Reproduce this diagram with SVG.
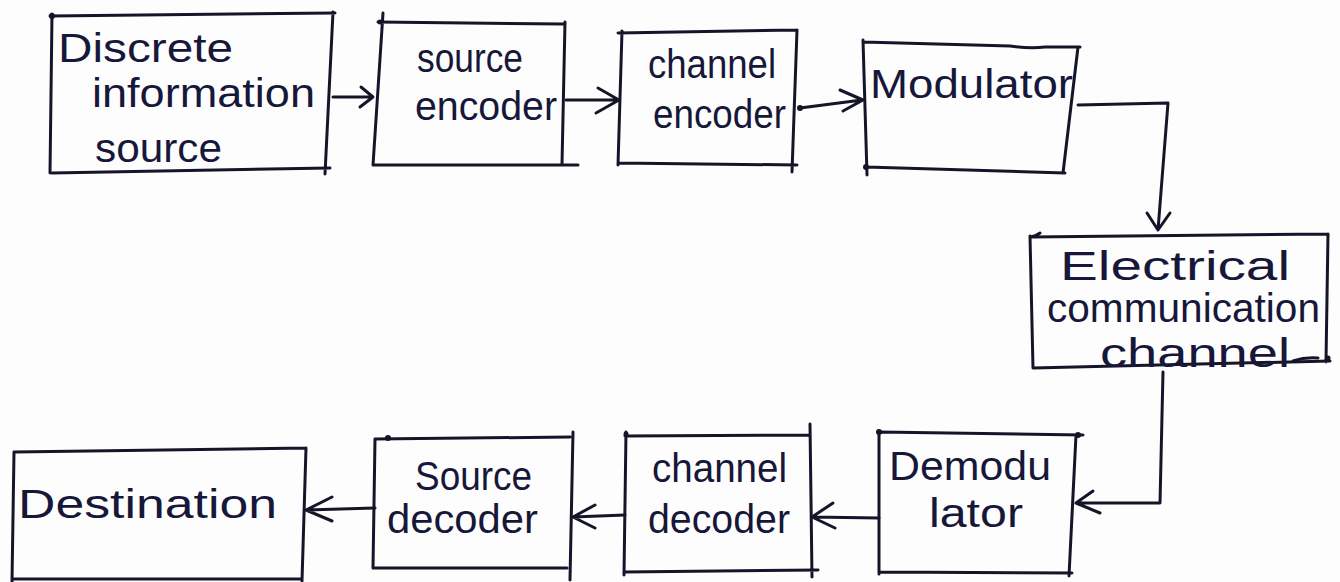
<svg xmlns="http://www.w3.org/2000/svg" width="1340" height="582" viewBox="0 0 1340 582">
  <style>
    .ink { fill: none; stroke: #15152a; stroke-width: 3; stroke-linecap: round; stroke-linejoin: round; }
    .dot { fill: #15152a; }
    .lbl { font-family: "Liberation Sans", "DejaVu Sans", sans-serif; font-size: 40px; fill: #17173a; }
  </style>
  <rect width="1340" height="582" fill="#fdfdfd"/>

  <!-- hand-drawn blocks: each edge is its own stroke so the corners overshoot -->
  <g id="discrete-information-source">
    <path class="ink" d="M50,16 L335,13 M333,12 L325,174 M330,168 L52,173 M52,14 L50,173"/>
    <circle class="dot" cx="52" cy="16" r="3"/>
    <text class="lbl" x="58" y="62" textLength="175" lengthAdjust="spacingAndGlyphs" font-size="44">Discrete</text>
    <text class="lbl" x="92" y="107" textLength="223" lengthAdjust="spacingAndGlyphs">information</text>
    <text class="lbl" x="95" y="162" textLength="127" lengthAdjust="spacingAndGlyphs">source</text>
  </g>

  <g id="source-encoder">
    <path class="ink" d="M378,22 L563,24 M565,22 L562,164 M373,165 L578,165 M383,13 L373,165"/>
    <circle class="dot" cx="380" cy="22" r="2.5"/>
    <text class="lbl" x="417" y="72" textLength="106" lengthAdjust="spacingAndGlyphs">source</text>
    <text class="lbl" x="415" y="120" textLength="142" lengthAdjust="spacingAndGlyphs">encoder</text>
  </g>

  <g id="channel-encoder">
    <path class="ink" d="M618,33 L797,30 M797,30 L792,172 M618,163 L797,165 M622,31 L618,165"/>
    <text class="lbl" x="648" y="78" textLength="128" lengthAdjust="spacingAndGlyphs">channel</text>
    <text class="lbl" x="653" y="128" textLength="133" lengthAdjust="spacingAndGlyphs">encoder</text>
  </g>

  <g id="modulator">
    <path class="ink" d="M863,42 L1010,46 Q1030,49 1045,47 L1080,47 M1078,47 L1063,173 M866,167 L1065,173 M863,40 L867,175"/>
    <circle class="dot" cx="866" cy="167" r="3"/>
    <text class="lbl" x="870" y="98" textLength="203" lengthAdjust="spacingAndGlyphs">Modulator</text>
  </g>

  <g id="electrical-communication-channel">
    <path class="ink" d="M1040,233 Q1036,236 1031,237 L1328,234 M1328,234 L1326,362 M1033,368 L1330,361 M1030,236 L1033,368"/>
    <path class="ink" d="M1293,361 Q1305,357 1318,358" stroke-width="2.5"/>
    <circle class="dot" cx="1328" cy="358" r="2.5"/>
    <text class="lbl" x="1060" y="280" textLength="230" lengthAdjust="spacingAndGlyphs" font-size="38">Electrical</text>
    <text class="lbl" x="1047" y="322" textLength="273" lengthAdjust="spacingAndGlyphs" font-size="32">communication</text>
    <text class="lbl" x="1100" y="367" textLength="190" lengthAdjust="spacingAndGlyphs" font-size="28">channel</text>
  </g>

  <g id="demodulator">
    <path class="ink" d="M879,432 L1083,435 M1076,435 L1069,576 M879,572 L1072,573 M879,432 L879,574"/>
    <circle class="dot" cx="879" cy="432" r="3"/>
    <circle class="dot" cx="1078" cy="435" r="3"/>
    <text class="lbl" x="889" y="480" textLength="162" lengthAdjust="spacingAndGlyphs">Demodu</text>
    <text class="lbl" x="929" y="527" textLength="94" lengthAdjust="spacingAndGlyphs">lator</text>
  </g>

  <g id="channel-decoder">
    <path class="ink" d="M625,436 L810,435 M810,424 L812,577 M624,572 L818,570 M626,432 L624,575"/>
    <circle class="dot" cx="626" cy="434" r="2.5"/>
    <text class="lbl" x="652" y="482" textLength="135" lengthAdjust="spacingAndGlyphs">channel</text>
    <text class="lbl" x="648" y="533" textLength="142" lengthAdjust="spacingAndGlyphs">decoder</text>
  </g>

  <g id="source-decoder">
    <path class="ink" d="M375,439 L570,437 M573,432 L570,580 M373,568 L567,568 M375,439 L373,568"/>
    <circle class="dot" cx="388" cy="438" r="3"/>
    <text class="lbl" x="415" y="490" textLength="117" lengthAdjust="spacingAndGlyphs">Source</text>
    <text class="lbl" x="387" y="533" textLength="151" lengthAdjust="spacingAndGlyphs">decoder</text>
  </g>

  <g id="destination">
    <path class="ink" d="M14,452 L306,448 M306,448 L302,581 M12,579 L302,579 M14,452 L12,582"/>
    <text class="lbl" x="18" y="518" textLength="259" lengthAdjust="spacingAndGlyphs">Destination</text>
  </g>

  <!-- signal flow: shafts with open V heads -->
  <g id="connectors">
    <path class="ink" d="M333,97 L372,97 M361,87 L373,97 L360,107"/>
    <path class="ink" d="M566,100 L618,100 M598,88 L619,100 L596,113"/>
    <circle class="dot" cx="800" cy="108" r="3"/>
    <path class="ink" d="M800,108 L862,100 M840,90 L863,100 L843,111"/>
    <path class="ink" d="M1078,105 L1168,103 L1158,230 M1147,213 L1158,230 L1170,213"/>
    <path class="ink" d="M1163,372 L1160,503 L1076,503 M1093,491 L1076,503 L1100,513"/>
    <path class="ink" d="M879,518 L812,517 M833,503 L812,517 L835,528"/>
    <path class="ink" d="M625,515 L573,517 M595,505 L573,517 L595,528"/>
    <path class="ink" d="M375,508 L306,510 M332,497 L306,510 L332,521"/>
  </g>
</svg>
